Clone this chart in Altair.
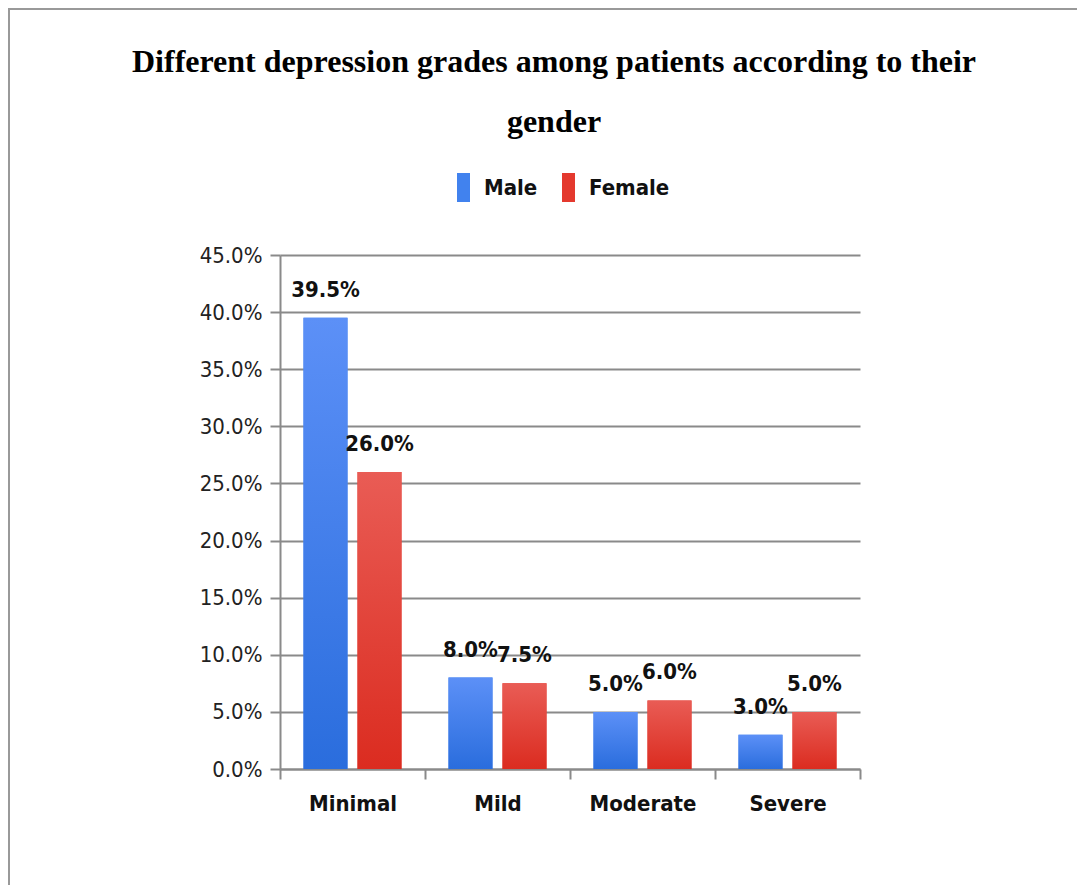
import altair as alt
import pandas as pd

categories = ["Minimal", "Mild", "Moderate", "Severe"]
series = ["Male", "Female"]
male = [39.5, 8.0, 5.0, 3.0]
female = [26.0, 7.5, 6.0, 5.0]

rows = []
for c, m, f in zip(categories, male, female):
    rows.append({"grade": c, "gender": "Male", "value": m / 100})
    rows.append({"grade": c, "gender": "Female", "value": f / 100})
df = pd.DataFrame(rows)

SANS = "DejaVu Sans Condensed, Liberation Sans Narrow, sans-serif"
BLUE, RED = "#4182ee", "#e4392e"

x = alt.X("grade:N", sort=categories, title=None,
          scale=alt.Scale(paddingInner=0, paddingOuter=0),
          axis=alt.Axis(labelAngle=0, tickBand="extent", tickSize=10, labelPadding=14,
                        labelFont=SANS, labelFontSize=22, labelFontWeight="bold",
                        labelColor="#111", domainColor="#8a8a8a", tickColor="#8a8a8a",
                        domainWidth=2, tickWidth=2, grid=False))
xo = alt.XOffset("gender:N", sort=series,
                 scale=alt.Scale(domain=series, paddingInner=0.185, paddingOuter=0.435))
y = alt.Y("value:Q", title=None,
          scale=alt.Scale(domain=[0, 0.45], nice=False),
          axis=alt.Axis(format=".1%", values=[i * 0.05 for i in range(10)], tickSize=10,
                        labelPadding=8, labelFont=SANS, labelFontSize=22,
                        labelColor="#222", domainColor="#8a8a8a", tickColor="#8a8a8a",
                        gridColor="#8a8a8a", gridWidth=2, domainWidth=2, tickWidth=2))

base = alt.Chart(df)

bars = base.mark_bar().encode(
    x=x, xOffset=xo, y=y,
    color=alt.Color("gender:N", sort=series,
                    scale=alt.Scale(domain=series, range=[BLUE, RED]),
                    legend=alt.Legend(title=None, orient="none", direction="horizontal",
                                      legendX=169, legendY=-82,
                                      symbolType="M-0.45,-1H0.45V1H-0.45Z", symbolSize=841,
                                      symbolStrokeWidth=0, labelFont=SANS, labelFontSize=22,
                                      labelFontWeight="bold", labelColor="#111",
                                      labelOffset=6, columnPadding=16)),
)

grad_blue = alt.Gradient(gradient="linear", x1=0, x2=0, y1=0, y2=1,
                         stops=[alt.GradientStop(color="#5c90f7", offset=0),
                                alt.GradientStop(color="#2a6ddd", offset=1)])
grad_red = alt.Gradient(gradient="linear", x1=0, x2=0, y1=0, y2=1,
                        stops=[alt.GradientStop(color="#e95c55", offset=0),
                               alt.GradientStop(color="#db2c20", offset=1)])

male_bars = base.transform_filter(alt.datum.gender == "Male").mark_bar(color=grad_blue).encode(
    x=x, xOffset=xo, y=y)
female_bars = base.transform_filter(alt.datum.gender == "Female").mark_bar(color=grad_red).encode(
    x=x, xOffset=xo, y=y)

labels = base.mark_text(font=SANS, fontSize=22, fontWeight="bold", color="#111",
                        baseline="middle", dy=-28).encode(
    x=x, xOffset=xo, y=y, text=alt.Text("value:Q", format=".1%"))

frame_top = base.mark_rule(color="#999999", strokeWidth=2).encode(
    x=alt.value(-272), x2=alt.value(797), y=alt.value(-246))
frame_left = base.mark_rule(color="#999999", strokeWidth=2).encode(
    x=alt.value(-271), y=alt.value(-247), y2=alt.value(630))

chart = alt.layer(bars, male_bars, female_bars, labels, frame_top, frame_left).properties(
    width=580, height=514,
    autosize=alt.AutoSizeParams(type="none"),
    padding={"left": 272, "top": 247, "right": 217, "bottom": 116},
    title=alt.TitleParams(
        text=["Different  depression  grades among patients according to their", "gender"],
        font="Liberation Serif", fontSize=32, fontWeight="bold", color="#000",
        anchor="middle", dx=-16, lineHeight=60, offset=0, dy=132),
).configure_view(stroke=None)

chart.save("out.html", embed_options={"renderer": "svg", "actions": False})
